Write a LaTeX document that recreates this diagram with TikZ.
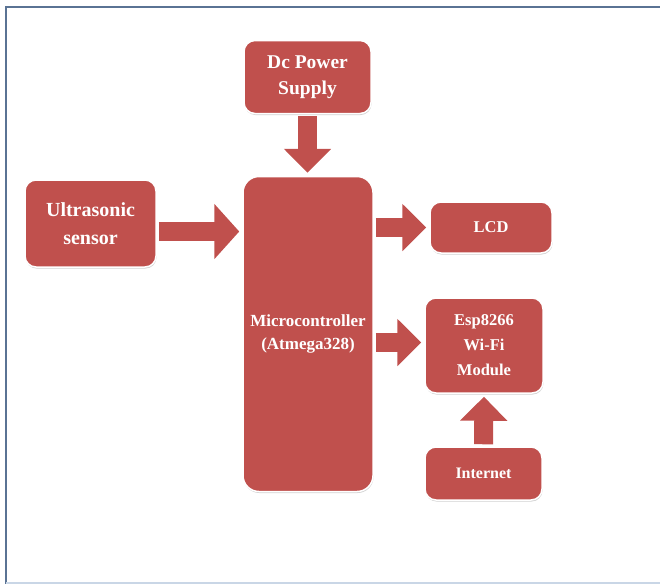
\documentclass[tikz,border=0pt]{standalone}
\usepackage{fontspec}
\setmainfont{Liberation Serif}
\usetikzlibrary{arrows.meta,positioning,shadows}
\definecolor{boxred}{HTML}{C0504D}
\definecolor{framegray}{HTML}{5A7394}
\definecolor{framelight}{HTML}{C9D6E6}

\begin{document}
\begin{tikzpicture}[x=1pt,y=-1pt,
  block/.style={rectangle,rounded corners=11pt,fill=boxred,draw=white,line width=1.5pt,text=white,align=center,inner sep=0pt,
    drop shadow={shadow xshift=0.5pt,shadow yshift=-1.5pt,opacity=0.3,fill=black!60}},
  feed/.style={draw=boxred,line width=19pt,shorten <=2pt,shorten >=3pt,-{Triangle[width=46pt,length=24pt]}}]
\useasboundingbox (0,0) rectangle (660,584);
\draw[framegray,line width=2pt] (661,7) -- (6,7) -- (6,584);
\draw[framelight,line width=1.5pt] (6,583) -- (661,583);

\node(dc)[block,minimum width=127pt,minimum height=73pt,font=\fontsize{19.5}{26}\selectfont\bfseries] at (307.5,77) {Dc Power\\Supply};
\node(ultra)[block,minimum width=131pt,minimum height=87pt,font=\fontsize{20}{28}\selectfont\bfseries] at (90.5,223.5) {Ultrasonic\\sensor};
\node(micro)[block,rounded corners=16pt,minimum width=130pt,minimum height=315pt,font=\fontsize{17}{23}\selectfont\bfseries] at (308,334) {Microcontroller\\(Atmega328)};
\node(lcd)[block,minimum width=122pt,minimum height=51pt,font=\fontsize{16.5}{24}\selectfont\bfseries] at (491,227.5) {LCD};
\node(esp)[block,minimum width=118pt,minimum height=95pt,font=\fontsize{16.5}{25}\selectfont\bfseries] at (484,345.5) {Esp8266\\Wi-Fi\\Module};
\node(inet)[block,minimum width=117pt,minimum height=53pt,font=\fontsize{16}{24}\selectfont\bfseries] at (483.5,473.5) {Internet};

\coordinate(ultraout) at ([yshift=-8pt]ultra.east);
\coordinate(espin) at ([yshift=3pt]esp.west);
\draw [feed] (dc.south) to (dc.south |- micro.north);
\draw [feed,-{Triangle[width=54pt,length=25pt]}] (ultraout) to (ultraout -| micro.west);
\draw [feed] (micro.east |- lcd.west) to (lcd.west);
\draw [feed] (micro.east |- espin) to (espin);
\draw [feed] (inet.north) to (esp.south);
\end{tikzpicture}
\end{document}
